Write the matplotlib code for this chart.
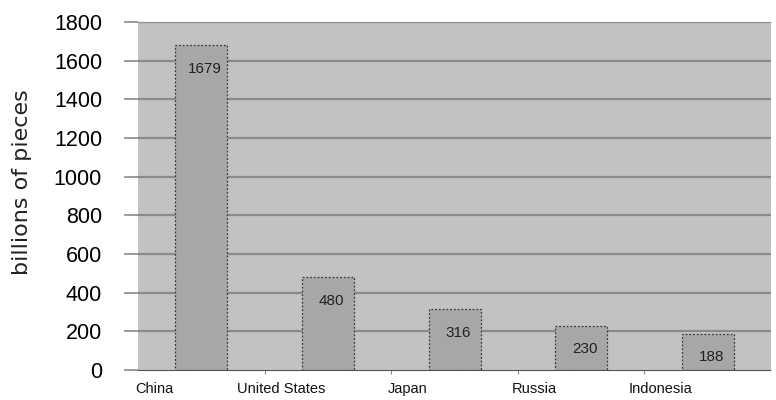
import numpy as np
import matplotlib.pyplot as plt

countries = ["China", "United States", "Japan", "Russia", "Indonesia"]
pieces = [1679, 480, 316, 230, 188]
yticks = [0, 200, 400, 600, 800, 1000, 1200, 1400, 1600, 1800]

plt.rcParams['font.family'] = ['Liberation Sans', 'DejaVu Sans']

fig = plt.figure(figsize=(7.76, 4.0), dpi=100)
ax = fig.add_axes([0.178, 0.075, 0.8156, 0.87])

x = np.arange(len(countries))
ax.set_facecolor("#c2c2c2")
for y in yticks[1:]:
    ax.axhline(y, color="#8a8a8a", lw=1.6, zorder=1)

bars = ax.bar(x, pieces, width=0.41, color="#a7a7a7", edgecolor="#3a3a3a",
              linestyle=(0, (1.5, 1.5)), linewidth=0.9, zorder=2)

for xi, v in zip(x, pieces):
    ax.annotate(str(v), (xi + 0.03, v), xytext=(0, -17), textcoords="offset points",
                ha="center", va="center", fontsize=11, color="#222222", zorder=3)

ax.set_xlim(-0.5, len(countries) - 0.5)
ax.set_ylim(0, 1800)
ax.set_yticks(yticks)
ax.set_yticklabels([str(t) for t in yticks], fontsize=15.5)
ax.tick_params(axis="y", length=10, width=1.2, color="#8a8a8a", pad=16)

# category labels sit near the left edge of each category band
ax.set_xticks(x[:-1] + 0.5)
ax.set_xticklabels([])
ax.tick_params(axis="x", length=3, color="#888888")
for xi, name in zip(x, countries):
    ax.text(xi - 0.37, -60, name, ha="center", va="top", fontsize=10.5,
            color="#111111", clip_on=False)

for side in ["left", "right"]:
    ax.spines[side].set_visible(False)
ax.spines["top"].set_color("#909090")
ax.spines["top"].set_linestyle((0, (2, 1)))
ax.spines["bottom"].set_color("#555555")
ax.spines["bottom"].set_linestyle((0, (2, 1)))

fig.text(0.028, 0.545, "billions of pieces", rotation=90, ha="center",
         va="center", fontsize=16, color="#222222", family="DejaVu Sans")

fig.savefig("out.png", dpi=100)
